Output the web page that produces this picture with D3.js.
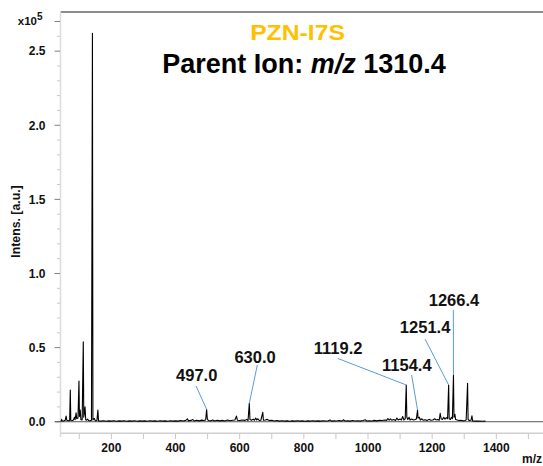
<!DOCTYPE html>
<html><head><meta charset="utf-8">
<script src="https://cdn.jsdelivr.net/npm/d3@7"></script>
<style>
html,body{margin:0;padding:0;background:#fff;}
svg{display:block;font-family:"Liberation Sans",Arial,sans-serif;}
</style></head>
<body>
<svg id="chart" width="543" height="466"></svg>
<script>
// ---- data ----
const titleText = "PZN-I7S";
const subtitleParts = ["Parent Ion: ", "m/z", " 1310.4"];
const yTickValues = [0, 0.5, 1.0, 1.5, 2.0, 2.5];
const yTickLabels = ["0.0", "0.5", "1.0", "1.5", "2.0", "2.5"];
const xTickValues = [200, 400, 600, 800, 1000, 1200, 1400];
const xTickLabels = ["200", "400", "600", "800", "1000", "1200", "1400"];
const xLabel = "m/z";
const yLabel = "Intens. [a.u.]";
// spectrum: [m/z, intensity (x10^5)]
const spectrumMz = [41.5,44,45,46.5,52,56,59,61,66,70,72,73.5,78,82,85,87,90,92,96,99,100.5,103,105,109,112.5,114,118,120,123,126,129,134,138,141,142.5,147,150,155,158,160,
168,176,184,192,200,208,216,224,232,240,248,256,264,272,280,288,296,304,312,320,328,336,344,352,360,368,376,384,392,400,408,416,424,432,437,440,448,454,458,466,474,482,488,494,497,499,502,510,516,522,530,538,546,554,562,570,578,585,590,593,600,608,616,622,626,630,632,637,642,646,650,653,657,661,666,672,674,680,686,692,700,708,716,724,732,740,748,756,764,772,780,788,796,804,812,820,828,836,844,852,860,868,876,882,886,894,902,910,918,924,928,936,944,952,960,968,976,984,992,996,1004,1012,1020,1028,1036,1044,1052,1058,1062,1066,1070,1074,1080,1086,1090,1094,1100,1104,1108,1112,1116,1119.2,1121,1124,1128,1131,1136,1142,1148,1151,1154.4,1156,1160,1163,1168,1172,1178,1184,1190,1196,1202,1208,1212,1218,1222,1225,1228,1232,1236,1240,1244,1248,1251.4,1253,1257,1260,1263,1266.4,1268,1271,1273,1278,1284,1290,1296,1302,1306,1310.4,1312,1316,1321,1324,1326,1334,1345,1356,1366];
const spectrumInt = [0.004,0.006,0.016,0.005,0.006,0.01,0.038,0.01,0.007,0.009,0.214,0.01,0.008,0.012,0.03,0.014,0.06,0.02,0.025,0.275,0.035,0.079,0.014,0.012,0.54,0.03,0.10,0.014,0.01,0.018,0.008,0.006,0.01,2.62,0.012,0.022,0.006,0.008,0.079,0.006,
0.004,0.007,0.003,0.006,0.004,0.007,0.003,0.006,0.004,0.007,0.003,0.006,0.004,0.007,0.003,0.006,0.004,0.006,0.003,0.007,0.004,0.006,0.003,0.007,0.004,0.006,0.003,0.007,0.004,0.006,0.004,0.008,0.005,0.009,0.02,0.006,0.009,0.015,0.005,0.01,0.006,0.011,0.008,0.012,0.083,0.02,0.008,0.006,0.012,0.005,0.01,0.006,0.009,0.005,0.012,0.007,0.01,0.012,0.038,0.01,0.008,0.012,0.009,0.016,0.008,0.124,0.015,0.01,0.018,0.01,0.025,0.012,0.02,0.008,0.01,0.063,0.01,0.012,0.016,0.008,0.01,0.005,0.008,0.004,0.007,0.004,0.006,0.003,0.006,0.004,0.007,0.004,0.006,0.003,0.006,0.004,0.007,0.004,0.006,0.004,0.007,0.005,0.006,0.012,0.004,0.006,0.005,0.008,0.004,0.013,0.005,0.006,0.004,0.008,0.005,0.007,0.004,0.008,0.013,0.005,0.007,0.005,0.009,0.006,0.01,0.008,0.012,0.009,0.022,0.01,0.02,0.01,0.015,0.009,0.025,0.012,0.018,0.012,0.035,0.012,0.02,0.248,0.03,0.015,0.03,0.012,0.018,0.012,0.015,0.02,0.079,0.025,0.03,0.012,0.02,0.01,0.014,0.009,0.016,0.01,0.012,0.02,0.012,0.015,0.01,0.057,0.02,0.015,0.03,0.018,0.028,0.02,0.248,0.02,0.015,0.03,0.02,0.315,0.03,0.05,0.015,0.012,0.008,0.01,0.006,0.008,0.012,0.26,0.015,0.008,0.01,0.04,0.006,0.004,0.005,0.003,0.004];
// annotated peaks
const annoText = ["497.0", "630.0", "1119.2", "1154.4", "1251.4", "1266.4"];
const annoPeakMz = [497, 630, 1119.2, 1154.4, 1251.4, 1266.4];
const annoPeakInt = [0.083, 0.124, 0.248, 0.079, 0.248, 0.315];
// label anchor (center, baseline) in data units
const annoLabelMz = [466, 648, 907, 1121, 1178, 1268];
const annoLabelInt = [0.277, 0.399, 0.456, 0.344, 0.596, 0.781];
// leader start in data units
const annoLeadMz = [464, 655, 906, 1136, 1178, 1266];
const annoLeadInt = [0.241, 0.383, 0.427, 0.315, 0.557, 0.753];

// ---- layout ----
const svg = d3.select("#chart");
const x = d3.scaleLinear().domain([41.46, 1545.5]).range([60.5, 543]);
const y = d3.scaleLinear().domain([-0.078, 2.764]).range([433.3, 12]);
const font = '"Liberation Sans",Arial,sans-serif';

// top border
svg.append("line").attr("x1", 60.5).attr("x2", 543).attr("y1", 12).attr("y2", 12)
  .attr("stroke", "#666").attr("stroke-width", 1.5);

// y axis line
svg.append("line").attr("x1", 60.5).attr("x2", 60.5).attr("y1", 12).attr("y2", 437)
  .attr("stroke", "#dcdcdc").attr("stroke-width", 1.5);
// x axis line
svg.append("line").attr("x1", 60.5).attr("x2", 543).attr("y1", 433.3).attr("y2", 433.3)
  .attr("stroke", "#cfcfcf").attr("stroke-width", 1.5);

// y minor ticks
const yMinor = d3.range(0, 28).map(i => i / 10).filter(v => !yTickValues.some(t => Math.abs(t - v) < 1e-6) && Math.abs(v - 2.7) > 1e-6);
svg.append("g").selectAll("line").data(yMinor).join("line")
  .attr("x1", 57).attr("x2", 60).attr("y1", d => y(d)).attr("y2", d => y(d))
  .attr("stroke", "#c8c8c8").attr("stroke-width", 1);
// y major ticks
svg.append("g").selectAll("line").data(yTickValues.concat([2.7])).join("line")
  .attr("x1", 54.5).attr("x2", 60).attr("y1", d => y(d)).attr("y2", d => y(d))
  .attr("stroke", "#808080").attr("stroke-width", 1);
svg.append("g").selectAll("text").data(yTickValues).join("text")
  .attr("x", 45.5).attr("y", d => y(d)).attr("dy", "0.36em")
  .attr("text-anchor", "end").attr("font-size", 12).attr("font-weight", "bold")
  .attr("font-family", font).attr("fill", "#111")
  .text((d, i) => yTickLabels[i]);
// multiplier
const mult = svg.append("text").attr("x", 42.5).attr("y", y(2.7) + 4)
  .attr("text-anchor", "end").attr("font-size", 11.5).attr("font-weight", "bold")
  .attr("font-family", font).attr("fill", "#111");
mult.append("tspan").text("x10");
mult.append("tspan").attr("dy", -5).attr("font-size", 10).text("5");

// x ticks every 100
const xAll = d3.range(100, 1600, 100);
svg.append("g").selectAll("line").data(xAll).join("line")
  .attr("x1", d => x(d)).attr("x2", d => x(d)).attr("y1", 434).attr("y2", 439)
  .attr("stroke", "#c8c8c8").attr("stroke-width", 1);
svg.append("g").selectAll("text").data(xTickValues).join("text")
  .attr("x", d => x(d)).attr("y", 452)
  .attr("text-anchor", "middle").attr("font-size", 12).attr("font-weight", "bold")
  .attr("font-family", font).attr("fill", "#111")
  .text((d, i) => xTickLabels[i]);

// axis titles
svg.append("text").attr("x", 542).attr("y", 462.5).attr("text-anchor", "end")
  .attr("font-size", 12).attr("font-weight", "bold").attr("font-family", font).attr("fill", "#111")
  .text(xLabel);
svg.append("text").attr("transform", "translate(19.5,221.5) rotate(-90)")
  .attr("text-anchor", "middle").attr("font-size", 12.3).attr("font-weight", "bold")
  .attr("font-family", font).attr("fill", "#111").text(yLabel);

// zero line
svg.append("line").attr("x1", 55).attr("x2", 543).attr("y1", y(0)).attr("y2", y(0))
  .attr("stroke", "#555").attr("stroke-width", 1);

// spectrum
const pts = spectrumMz.map((m, i) => [m, spectrumInt[i]]);
svg.append("path").datum(pts)
  .attr("fill", "none").attr("stroke", "#000").attr("stroke-width", 1.1)
  .attr("stroke-linejoin", "round")
  .attr("d", d3.line().x(d => x(d[0])).y(d => y(d[1])));

// annotations
annoText.forEach((t, i) => {
  svg.append("line")
    .attr("x1", x(annoLeadMz[i])).attr("y1", y(annoLeadInt[i]))
    .attr("x2", x(annoPeakMz[i])).attr("y2", y(annoPeakInt[i]))
    .attr("stroke", "#5b9bd5").attr("stroke-width", 1);
  svg.append("text").attr("x", x(annoLabelMz[i])).attr("y", y(annoLabelInt[i]))
    .attr("text-anchor", "middle").attr("font-size", 16.5).attr("font-weight", "bold")
    .attr("font-family", font).attr("fill", "#111").text(t);
});

// titles
svg.append("text").attr("transform", "translate(297.5,40) scale(1.15,1)")
  .attr("text-anchor", "middle")
  .attr("font-size", 21.5).attr("font-weight", "bold").attr("font-family", font)
  .attr("fill", "#FFC000")
  .text(titleText);
const sub = svg.append("text").attr("x", 304).attr("y", 73.3).attr("text-anchor", "middle")
  .attr("font-size", 27).attr("font-weight", "bold").attr("font-family", font).attr("fill", "#000");
sub.append("tspan").text(subtitleParts[0]);
sub.append("tspan").attr("font-style", "italic").text(subtitleParts[1]);
sub.append("tspan").text(subtitleParts[2]);
</script>
</body></html>
